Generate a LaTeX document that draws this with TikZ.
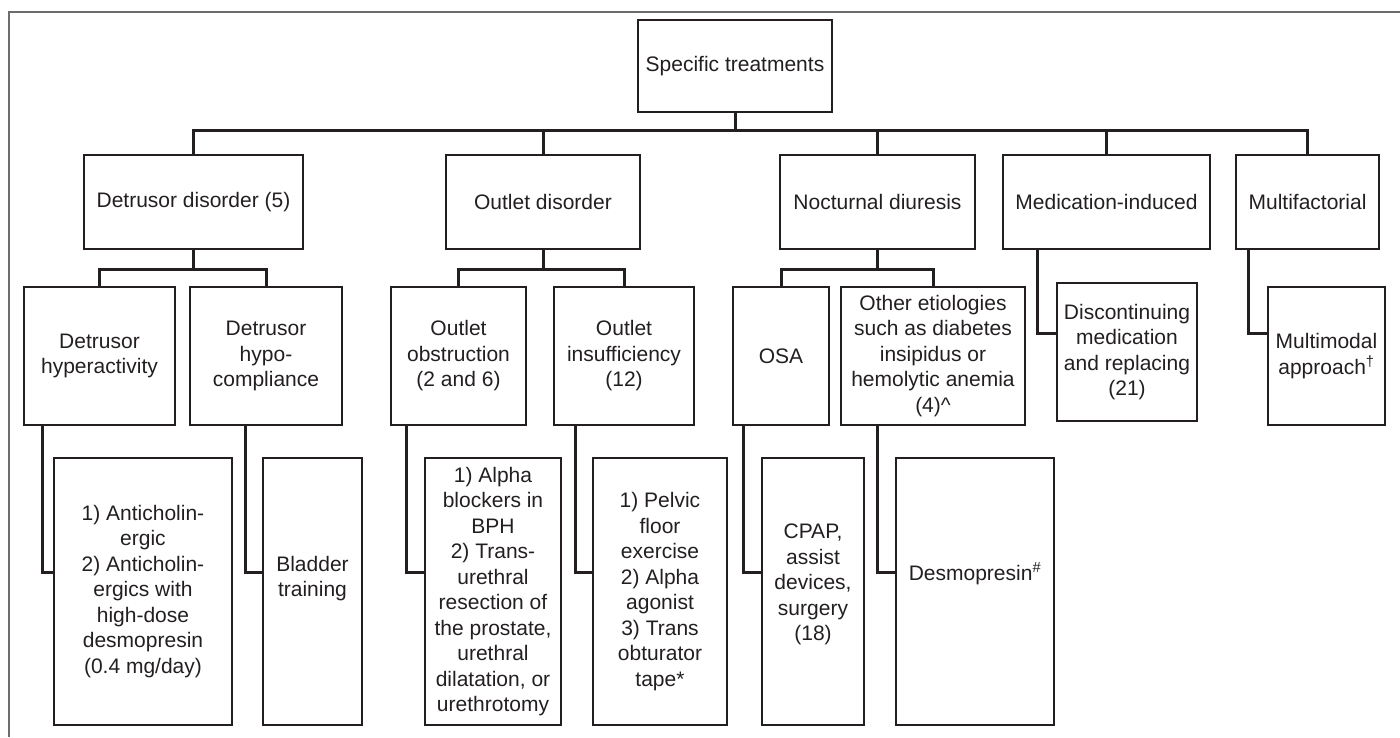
\documentclass[tikz,border=0pt]{standalone}
\usepackage{fontspec}
\setmainfont{Liberation Sans}
\newcommand\fsz{\fontsize{21}{25.5}\selectfont}
\definecolor{inkc}{HTML}{231F20}
\definecolor{framec}{HTML}{6D6D6D}
\begin{document}
\begin{tikzpicture}[x=1pt,y=-1pt,
  box/.style={draw=inkc, line width=2.3pt, inner sep=0pt, align=center, font=\fsz, text=inkc},
  txt/.style={inner sep=0pt, align=center, font=\fsz, text=inkc},
  conn/.style={draw=inkc, line width=3pt, line join=miter},
  framel/.style={draw=framec, line width=1.6pt}]
\useasboundingbox (0,0) rectangle (1400,737);
% frame
\coordinate (fbl) at (9,737);
\coordinate (ftl) at (9,12);
\coordinate (ftr) at (1400,12);
\draw[framel] (fbl) -- (ftl) -- (ftr);
% root
\node[box, minimum width=194pt, minimum height=92pt] (root) at (735,66) {Specific treatments};
% level 1
\node[box, minimum width=219pt, minimum height=94pt] (det) at (193.5,202) {Detrusor disorder (5)};
\node[box, minimum width=194pt, minimum height=94pt] (out) at (543,202) {Outlet disorder};
\node[box, minimum width=195pt, minimum height=94pt] (noc) at (877.5,202) {Nocturnal diuresis};
\node[box, minimum width=207pt, minimum height=94pt] (med) at (1106.5,202) {Medication-induced};
\node[box, minimum width=143pt, minimum height=94pt] (mul) at (1307.5,202) {Multifactorial};
% level 2
\node[box, minimum width=151pt, minimum height=138pt] (hyp) at (99.5,356) {Detrusor\\hyperactivity};
\node[box, minimum width=152pt, minimum height=138pt] (hypo) at (266,356) {Detrusor\\hypo-\\compliance};
\node[box, minimum width=135pt, minimum height=138pt] (obs) at (458.5,356) {Outlet\\obstruction\\(2 and 6)};
\node[box, minimum width=140pt, minimum height=138pt] (ins) at (624,356) {Outlet\\insufficiency\\(12)};
\node[box, minimum width=96pt, minimum height=138pt] (osa) at (781,356) {OSA};
\node[box, minimum width=184pt, minimum height=138pt] (oth) at (933,356) {Other etiologies\\such as diabetes\\insipidus or\\hemolytic anemia\\(4)\textasciicircum};
\node[box, minimum width=140pt, minimum height=138pt] (disc) at (1127,352) {Discontinuing\\medication\\and replacing\\(21)};
\node[box, minimum width=117pt, minimum height=138pt] (mm) at (1326.5,356) {Multimodal\\approach\textsuperscript{†}};
% level 3
\node[box, minimum width=178pt, minimum height=267pt] (anti) at (143,591.5) {1) Anticholin-\\ergic\\2) Anticholin-\\ergics with\\high-dose\\desmopresin\\(0.4 mg/day)};
\node[box, minimum width=99pt, minimum height=267pt] (blad) at (312.5,591.5) {};
\node[txt] (bladT) at ([yshift=13pt]blad.center) {Bladder\\training};
\node[box, minimum width=136pt, minimum height=267pt] (alpha) at (493,591.5) {1) Alpha\\blockers in\\BPH\\2) Trans-\\urethral\\resection of\\the prostate,\\urethral\\dilatation, or\\urethrotomy};
\node[box, minimum width=134pt, minimum height=267pt] (pelv) at (660,591.5) {1) Pelvic\\floor\\exercise\\2) Alpha\\agonist\\3) Trans\\obturator\\tape*};
\node[box, minimum width=102pt, minimum height=267pt] (cpap) at (813,591.5) {};
\node[txt] (cpapT) at ([yshift=7pt]cpap.center) {CPAP,\\assist\\devices,\\surgery\\(18)};
\node[box, minimum width=158pt, minimum height=267pt] (des) at (975,591.5) {};
\node[txt] (desT) at ([yshift=18pt]des.center) {Desmopresin\textsuperscript{\#}};
% connectors level 0 -> 1
\coordinate (bar0) at (735,130);
\draw[conn] (root.south) -- (bar0);
\draw[conn] (det.north) |- (bar0);
\draw[conn] (out.north) |- (bar0);
\draw[conn] (noc.north) |- (bar0);
\draw[conn] (med.north) |- (bar0);
\draw[conn] (mul.north) |- (bar0);
% level 1 -> 2
\coordinate (barD) at (193.5,269);
\draw[conn] (det.south) -- (barD);
\draw[conn] (hyp.north) |- (barD);
\draw[conn] (hypo.north) |- (barD);
\coordinate (barO) at (543,269);
\draw[conn] (out.south) -- (barO);
\draw[conn] (obs.north) |- (barO);
\draw[conn] (ins.north) |- (barO);
\coordinate (barN) at (877.5,269);
\draw[conn] (noc.south) -- (barN);
\draw[conn] (osa.north) |- (barN);
\draw[conn] (oth.north) |- (barN);
\coordinate (medS) at (1037,249);
\draw[conn] (medS) |- (disc.west |- 0,333);
\coordinate (mulS) at (1248,249);
\draw[conn] (mulS) |- (mm.west |- 0,333);
% level 2 -> 3
\coordinate (hypS) at (42,425);
\draw[conn] (hypS) |- (anti.west |- 0,572);
\coordinate (hypoS) at (245,425);
\draw[conn] (hypoS) |- (blad.west |- 0,572);
\coordinate (obsS) at (406,425);
\draw[conn] (obsS) |- (alpha.west |- 0,572);
\coordinate (insS) at (575,425);
\draw[conn] (insS) |- (pelv.west |- 0,572);
\coordinate (osaS) at (743,425);
\draw[conn] (osaS) |- (cpap.west |- 0,572);
\coordinate (othS) at (877,425);
\draw[conn] (othS) |- (des.west |- 0,572);
\end{tikzpicture}
\end{document}
